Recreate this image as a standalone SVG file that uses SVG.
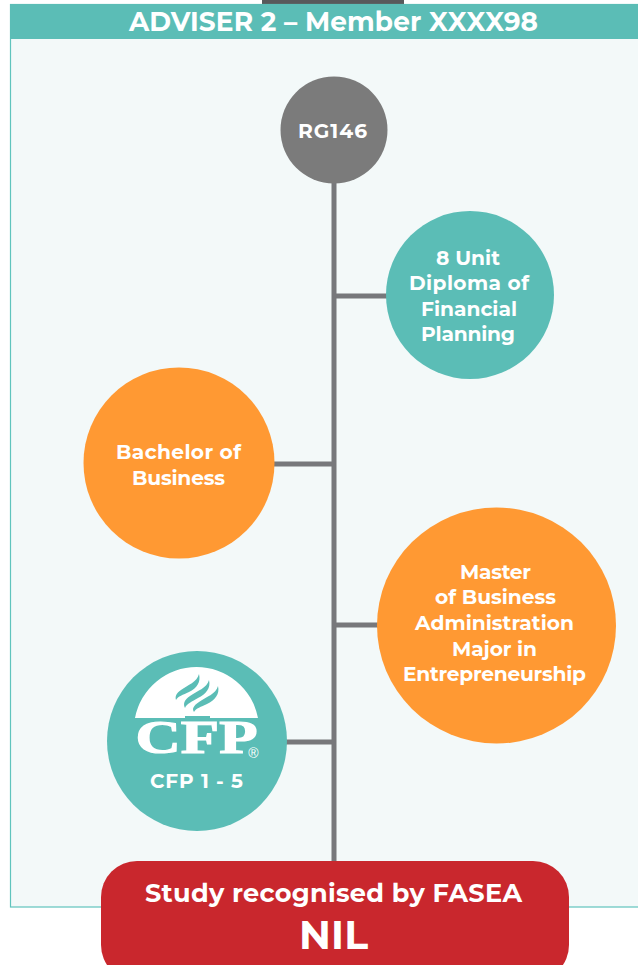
<svg xmlns="http://www.w3.org/2000/svg" width="638" height="965" viewBox="0 0 638 965">
<style>
text{font-family:"Montserrat","Lato","Open Sans","Liberation Sans",sans-serif;font-weight:700;fill:#fff;text-anchor:middle}
.l{font-size:20.2px}
.teal{fill:#5bbdb6}
.orange{fill:#ff9933}
.conn{stroke:#77787b;stroke-width:5;fill:none}
</style>
<rect x="0" y="0" width="638" height="965" fill="#fff"/>
<rect x="262" y="0" width="142" height="4" fill="#58595b"/>
<g id="panel">
<rect x="10.500" y="4.500" width="640" height="902.500" fill="#f3f9f9" stroke="#5fc4bd" stroke-width="1.200"/>
<rect x="10" y="4" width="628" height="35" class="teal"/>
<text x="333.500" y="31" font-size="26.400" textLength="409">ADVISER 2 – Member XXXX98</text>
</g>
<g id="connectors">
<path class="conn" d="M334 180V865M334 296H390M334 464H272M334 625H380M334 742H284"/>
</g>
<g id="rg146">
<circle cx="334" cy="130" r="53.500" fill="#7b7b7b"/>
<text class="l" x="332.500" y="138" textLength="69">RG146</text>
</g>
<g id="diploma">
<circle cx="470" cy="295" r="84" class="teal"/>
<text class="l" x="468" y="265" textLength="64">8 Unit</text>
<text class="l" x="469" y="290" textLength="120">Diploma of</text>
<text class="l" x="469" y="316" textLength="96">Financial</text>
<text class="l" x="468" y="341" textLength="94">Planning</text>
</g>
<g id="bachelor">
<circle cx="179" cy="463" r="95.500" class="orange"/>
<text class="l" x="178.500" y="459" textLength="125">Bachelor of</text>
<text class="l" x="178.500" y="485" textLength="93">Business</text>
</g>
<g id="master">
<ellipse cx="496.500" cy="625.500" rx="119.500" ry="118" class="orange"/>
<text class="l" x="495.500" y="579" textLength="71">Master</text>
<text class="l" x="495.500" y="604" textLength="121">of Business</text>
<text class="l" x="494.500" y="630" textLength="159">Administration</text>
<text class="l" x="494.500" y="656" textLength="85">Major in</text>
<text class="l" x="494.500" y="681" textLength="183">Entrepreneurship</text>
</g>
<g id="cfp">
<circle cx="197" cy="741" r="90" class="teal"/>
<path d="M135 718A62.600 62.600 0 0 1 258 718H210V716H185V718Z" fill="#fff"/>
<path class="teal" d="M199 674C197 682 188 685 181 690C176 693 175 697 176 700C178 696 183 695 189 692C197 688 201 682 199 674Z"/>
<path class="teal" d="M209 680C207 688 197 691 190 696C184 700 183 704 185 708C187 703 192 702 198 698C206 694 211 688 209 680Z"/>
<path class="teal" d="M218 686C216 694 206 697 199 702C193 706 192 709 194 712C196 708 201 707 207 704C215 700 220 694 218 686Z"/>
<text x="196.500" y="753" font-size="47" textLength="122" lengthAdjust="spacingAndGlyphs" stroke="#fff" stroke-width="1.200" style="font-family:'Liberation Serif',serif;font-weight:700">CFP</text>
<text x="253.500" y="757.500" font-size="14" style="font-family:'Liberation Sans',sans-serif;font-weight:400">®</text>
<text x="196.500" y="788" font-size="20" textLength="93">CFP 1 - 5</text>
</g>
<g id="fasea">
<rect x="101" y="861" width="468" height="120" rx="36" fill="#c9272d"/>
<text x="333.500" y="902" font-size="25.600" textLength="377">Study recognised by FASEA</text>
<text x="333.500" y="949" font-size="39.500" textLength="69">NIL</text>
</g>
</svg>
